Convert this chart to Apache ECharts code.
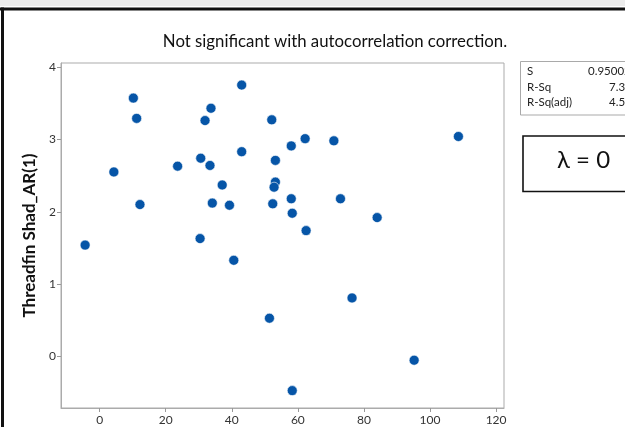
<!DOCTYPE html>
<html>
<head>
<meta charset="utf-8">
<script src="https://cdn.jsdelivr.net/npm/echarts/dist/echarts.min.js"></script>
<style>
  html, body { margin: 0; padding: 0; background: #fff; }
  #chart { width: 625px; height: 427px; }
</style>
</head>
<body>
<div id="chart"></div>
<script>
// Lagged predictor (x) against Threadfin Shad AR(1) residual response (y)
const xValues = [
  -4.4, 4.3, 10.2, 11.2, 12.2, 23.6, 30.4, 30.6, 31.9, 33.7,
  33.4, 34.1, 37.1, 39.3, 40.6, 43.0, 43.0, 52.1, 51.4, 52.4,
  53.2, 53.2, 52.8, 58.0, 58.0, 58.3, 58.3, 62.2, 62.5, 70.9,
  72.9, 76.4, 84.0, 95.2, 108.6
];
const yValues = [
  1.54, 2.55, 3.57, 3.29, 2.10, 2.63, 1.63, 2.74, 3.26, 3.43,
  2.64, 2.12, 2.37, 2.09, 1.33, 3.75, 2.83, 3.27, 0.53, 2.11,
  2.71, 2.41, 2.34, 2.91, 2.18, 1.98, -0.47, 3.01, 1.74, 2.98,
  2.18, 0.81, 1.92, -0.05, 3.04
];
const xTicks = [0, 20, 40, 60, 80, 100, 120];
const yTicks = [0, 1, 2, 3, 4];

const titleText = 'Not significant with autocorrelation correction.';
const yAxisTitle = 'Threadfin Shad_AR(1)';
const statLabels = ['S', 'R-Sq', 'R-Sq(adj)'];
const statValues = ['0.950023', '7.37%', '4.56%'];
const lambdaText = 'λ = 0';

const FONT = 'Lato, "Liberation Sans", sans-serif';

const points = xValues.map((x, i) => [x, yValues[i]]);

const chart = echarts.init(document.getElementById('chart'), null, { renderer: 'canvas' });

const statRowTops = [65, 81, 96];
const statsGraphics = [];
statLabels.forEach((label, i) => {
  statsGraphics.push({
    type: 'text', left: 527, top: statRowTops[i],
    style: { text: label, font: '11.5px ' + FONT, fill: '#222' }
  });
  statsGraphics.push({
    type: 'text', left: i === 0 ? 588 : 609, top: statRowTops[i],
    style: { text: statValues[i], font: '11.5px ' + FONT, fill: '#222' }
  });
});

chart.setOption({
  backgroundColor: '#fff',
  animation: false,
  title: {
    text: titleText,
    left: 330, top: 28,
    textAlign: 'center',
    textStyle: { fontFamily: FONT, fontSize: 16.8, fontWeight: 'normal', color: '#111' }
  },
  grid: {
    left: 61, right: 121, top: 63, bottom: 19,
    show: true, borderColor: '#ababab', borderWidth: 1, backgroundColor: '#fff'
  },
  xAxis: {
    type: 'value', min: -11.7, max: 122.4,
    axisLine: { show: true, onZero: false, lineStyle: { color: '#ababab', width: 1 } },
    axisTick: { show: true, length: 4, customValues: xTicks, lineStyle: { color: '#999' } },
    axisLabel: { customValues: xTicks, margin: 6, fontFamily: FONT, fontSize: 12, color: '#333' },
    splitLine: { show: false }
  },
  yAxis: {
    type: 'value', min: -0.71, max: 4.055,
    name: yAxisTitle, nameLocation: 'middle', nameGap: 19, nameRotate: 90,
    nameTextStyle: { fontFamily: FONT, fontSize: 17, fontWeight: 'bold', color: '#111' },
    axisLine: { show: true, onZero: false, lineStyle: { color: '#ababab', width: 1 } },
    axisTick: { show: true, length: 4, customValues: yTicks, lineStyle: { color: '#999' } },
    axisLabel: { customValues: yTicks, margin: 5, fontFamily: FONT, fontSize: 12, color: '#333' },
    splitLine: { show: false }
  },
  series: [{
    type: 'scatter',
    data: points,
    symbol: 'circle',
    symbolSize: 10,
    itemStyle: { color: '#0655a7', borderColor: '#fff', borderWidth: 0.6, opacity: 1 }
  }],
  graphic: [
    // page frame: light strip at top, dark rule beneath it, dark rule down the left side
    { type: 'rect', shape: { x: 0, y: 0, width: 625, height: 6 }, style: { fill: '#ececec' } },
    { type: 'rect', shape: { x: 0, y: 7.5, width: 625, height: 3 }, style: { fill: '#111' } },
    { type: 'rect', shape: { x: 1, y: 7.5, width: 3, height: 420 }, style: { fill: '#111' } },
    // regression summary box
    { type: 'rect', shape: { x: 520.5, y: 61.5, width: 110, height: 53.5 },
      style: { fill: '#fff', stroke: '#a9a9a9', lineWidth: 1 } },
    ...statsGraphics,
    // lambda box
    { type: 'rect', shape: { x: 523, y: 136, width: 110, height: 55.5 },
      style: { fill: '#fff', stroke: '#111', lineWidth: 1.6 } },
    { type: 'text', left: 557, top: 148,
      style: { text: lambdaText, font: '24px ' + FONT, fill: '#111' } }
  ]
});
</script>
</body>
</html>
